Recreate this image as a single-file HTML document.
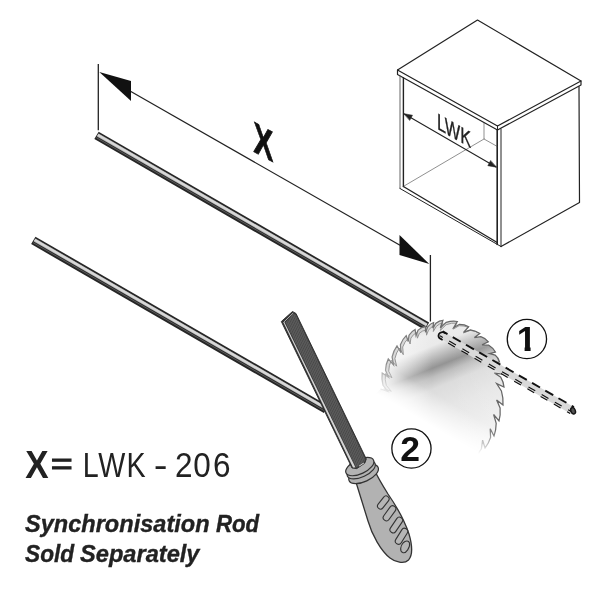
<!DOCTYPE html>
<html lang="en"><head><meta charset="utf-8"><title>Synchronisation Rod</title>
<style>html,body{margin:0;padding:0;background:#fff}svg{display:block;will-change:transform;filter:grayscale(1)}</style></head>
<body>
<svg width="600" height="600" viewBox="0 0 600 600">
<defs>
<linearGradient id="bladeg" gradientUnits="userSpaceOnUse" x1="418.8" y1="328.5" x2="471.2" y2="458.3">
  <stop offset="0" stop-color="#d8d8d8"/>
  <stop offset="0.06" stop-color="#ececec"/>
  <stop offset="0.15" stop-color="#eaeaea"/>
  <stop offset="0.23" stop-color="#bcbcbc"/>
  <stop offset="0.30" stop-color="#949494"/>
  <stop offset="0.36" stop-color="#bebebe"/>
  <stop offset="0.44" stop-color="#dcdcdc"/>
  <stop offset="0.6" stop-color="#e6e6e6"/>
  <stop offset="0.8" stop-color="#eeeeee"/>
  <stop offset="1" stop-color="#f8f8f8"/>
</linearGradient>
<linearGradient id="bladestroke" gradientUnits="userSpaceOnUse" x1="380" y1="390" x2="500" y2="330">
  <stop offset="0" stop-color="#9a9a9a"/>
  <stop offset="0.5" stop-color="#707070"/>
  <stop offset="1" stop-color="#606060"/>
</linearGradient>
<linearGradient id="lightenL" gradientUnits="userSpaceOnUse" x1="384" y1="0" x2="432" y2="0">
  <stop offset="0" stop-color="#fff" stop-opacity="0.7"/>
  <stop offset="1" stop-color="#fff" stop-opacity="0"/>
</linearGradient>
<linearGradient id="lighten" gradientUnits="userSpaceOnUse" x1="450" y1="0" x2="505" y2="0">
  <stop offset="0" stop-color="#fff" stop-opacity="0"/>
  <stop offset="1" stop-color="#fff" stop-opacity="0.12"/>
</linearGradient>
<linearGradient id="fadeg" gradientUnits="userSpaceOnUse" x1="442.0" y1="386.0" x2="421.7" y2="420.4">
  <stop offset="0" stop-color="#fff"/>
  <stop offset="0.25" stop-color="#fff"/>
  <stop offset="1" stop-color="#000"/>
</linearGradient>
<mask id="fadem" maskUnits="userSpaceOnUse" x="340" y="300" width="200" height="200"><rect x="340" y="300" width="200" height="200" fill="url(#fadeg)"/></mask>
<clipPath id="oneclip"><path d="M505 315 H550 V346.4 H530.6 V353 H524.6 V346.4 H505 Z"/></clipPath>
<pattern id="hatch" patternUnits="userSpaceOnUse" width="2.2" height="2.2" patternTransform="rotate(28)">
  <rect width="2.2" height="2.2" fill="#5a5a5a"/>
  <rect width="0.8" height="2.2" fill="#484848"/>
</pattern>
</defs>
<rect width="600" height="600" fill="#fff"/>

<g id="cabinet" fill="none" stroke="#222" stroke-linejoin="round" stroke-linecap="round">
  <path d="M397.5 70 L477.5 20 L581 81 L581 85 L497.5 130 L397.5 74.5 Z" fill="#fff" stroke-width="1.2"/>
  <path d="M397.5 70 L497.5 126 L581 81" stroke-width="1.2"/>
  <path d="M497.5 126 L497.5 130" stroke-width="1"/>
  <path d="M579 86.5 L579.5 202.5 L501 246.5" stroke-width="1.2"/>
  <path d="M497.2 130 L497.2 244.5" stroke-width="1.6"/>
  <path d="M501 129 L501 246.5" stroke-width="1"/>
  <path d="M400 76 L400 188.5" stroke-width="0.9" stroke="#555"/>
  <path d="M403.4 78 L403.4 186.5" stroke-width="1.4"/>
  <path d="M403.4 186.5 L497.2 242.5" stroke-width="1.4"/>
  <path d="M400 188.5 L501 246.5" stroke-width="1"/>
  <path d="M484 122.5 L484 139 L497 146.3" stroke-width="0.6" stroke="#444"/>
  <path d="M484 139 L403.6 186.3" stroke-width="0.6" stroke="#444"/>
  <path d="M404.5 114 L496 167" stroke-width="1.1"/>
  <path d="M404 113.7 L412.5 115.2 L409.8 120.2 Z" fill="#222" stroke-width="0.5"/>
  <path d="M496.3 167.2 L487.8 165.7 L490.5 160.7 Z" fill="#222" stroke-width="0.5"/>
</g>
<text transform="matrix(0.71 0.40 0 1 437 128.8)" font-family="'Liberation Sans', sans-serif" font-size="23" fill="#222" stroke="#222" stroke-width="0.35">LWK</text>


<g id="dimx" fill="none" stroke="#222" stroke-linecap="butt">
  <path d="M98.3 64 L98.3 130.3" stroke-width="1.3"/>
  <path d="M430.4 255 L430.4 321.5" stroke-width="1.3"/>
  <path d="M130 91 L400 245.3" stroke-width="1.2"/>
  <path d="M99.3 72 L131 81 L131 101 Z" fill="#111" stroke="none"/>
  <path d="M429.3 264 L399.5 235 L399.5 255 Z" fill="#111" stroke="none"/>
</g>
<text transform="matrix(0.68 0.37 0 1 253.4 151.5)" font-family="'Liberation Sans', sans-serif" font-weight="bold" font-size="43.5" fill="#111" stroke="#111" stroke-width="0.9" stroke-linejoin="miter">X</text>

<g><path d="M96.50 135.39 L427.00 326.22" stroke="#262626" stroke-width="8.60" fill="none"/><path d="M97.75 135.02 L426.69 324.95" stroke="#b4b4b4" stroke-width="3.27" fill="none"/><path d="M97.82 134.91 L426.76 324.84" stroke="#d8d8d8" stroke-width="2.15" fill="none"/><path d="M96.27 137.59 L425.21 327.52" stroke="#808080" stroke-width="0.60" fill="none"/></g>
<g><path d="M33.30 240.38 L326.00 409.38" stroke="#262626" stroke-width="8.60" fill="none"/><path d="M34.55 240.01 L325.69 408.11" stroke="#b4b4b4" stroke-width="3.27" fill="none"/><path d="M34.62 239.89 L325.76 408.00" stroke="#d8d8d8" stroke-width="2.15" fill="none"/><path d="M33.07 242.58 L324.21 410.68" stroke="#808080" stroke-width="0.60" fill="none"/></g>
<g id="blade" mask="url(#fadem)">
  <path d="M380.5 389.0 L387.9 391.5 L383.0 385.3 Q381.3 379.1 382.2 373.0 L388.6 377.2 L385.5 370.3 Q385.7 364.2 388.3 358.9 L393.5 364.8 L392.1 356.9 Q393.5 350.6 397.0 345.8 L401.0 352.7 L400.4 344.7 Q402.4 339.2 406.2 335.6 L408.2 341.5 L409.0 335.3 Q411.4 331.3 415.1 329.5 L416.0 335.5 L418.1 330.1 Q421.3 327.2 425.5 326.7 L425.5 332.2 L427.7 326.9 Q430.4 323.4 433.6 322.5 L432.8 328.2 L435.9 323.2 Q439.4 320.5 443.0 320.3 L440.3 327.7 L446.2 322.4 Q451.9 320.7 457.3 321.5 L453.7 327.5 L459.5 324.3 Q464.5 324.3 468.7 326.7 L463.7 332.2 L470.5 329.8 Q475.8 330.6 479.8 333.6 L474.4 337.6 L480.8 336.7 Q485.5 338.3 488.4 341.8 L482.1 344.8 L488.8 345.2 Q493.1 347.8 495.4 352.0 L489.5 353.6 L495.1 355.1 Q498.5 357.9 499.5 362.0 L492.6 362.6 L498.6 365.3 Q501.5 369.3 502.0 374.0 L494.4 373.1 L500.8 377.3 Q503.7 382.0 504.0 387.0 L496.6 383.6 L501.4 390.9 Q503.5 398.2 503.0 405.0 L496.6 399.9 L500.1 407.9 Q500.7 415.0 499.0 421.0 L493.6 414.5 L496.2 423.3 Q496.1 430.5 494.0 436.0 L490.2 428.8 L490.6 437.4 Q488.6 443.7 485.0 448.0 L482.6 440.2 L481.4 448.7 Q478.3 454.5 474.0 458.0 L440 470 L390 440 L370 400 Z" fill="#d9d9d9" stroke="none"/>
  <path d="M383.9 388.8 L391.3 391.3 L386.3 385.4 Q384.6 379.4 385.5 373.7 L392.0 377.8 L388.7 371.2 Q388.8 365.4 391.3 360.4 L396.6 366.2 L394.9 358.6 Q396.1 352.6 399.5 348.1 L403.3 354.7 L402.7 347.0 Q404.6 341.7 408.2 338.4 L410.1 344.0 L410.9 338.1 Q413.1 334.2 416.6 332.6 L417.4 338.2 L419.4 333.2 Q422.4 330.4 426.4 330.0 L426.5 335.2 L428.5 330.1 Q431.0 326.7 434.0 325.9 L433.3 331.5 L436.3 326.4 Q439.5 323.3 443.0 322.8 L440.3 330.4 L446.1 324.7 Q451.7 322.6 456.9 323.2 L453.3 329.1 L459.1 325.7 Q464.2 325.4 468.4 327.5 L463.3 333.0 L470.3 330.4 Q475.7 330.9 479.8 333.6 L474.4 337.6 L480.8 336.7 Q485.5 338.3 488.4 341.8 L482.1 344.8 L488.8 345.2 Q493.1 347.8 495.4 352.0 L489.5 353.6 L495.1 355.1 Q498.5 357.9 499.5 362.0 L492.6 362.6 L498.6 365.3 Q501.5 369.3 502.0 374.0 L494.4 373.1 L500.8 377.3 Q503.7 382.0 504.0 387.0 L496.6 383.6 L501.4 390.9 Q503.5 398.2 503.0 405.0 L496.6 399.9 L500.1 407.9 Q500.7 415.0 499.0 421.0 L493.6 414.5 L496.2 423.3 Q496.1 430.5 494.0 436.0 L490.2 428.8 L490.6 437.4 Q488.6 443.7 485.0 448.0 L482.6 440.2 L481.4 448.7 Q478.3 454.5 474.0 458.0 L440 470 L390 440 L370 400 Z" fill="url(#bladeg)" stroke="none"/>
  <path d="M383.9 388.8 L391.3 391.3 L386.3 385.4 Q384.6 379.4 385.5 373.7 L392.0 377.8 L388.7 371.2 Q388.8 365.4 391.3 360.4 L396.6 366.2 L394.9 358.6 Q396.1 352.6 399.5 348.1 L403.3 354.7 L402.7 347.0 Q404.6 341.7 408.2 338.4 L410.1 344.0 L410.9 338.1 Q413.1 334.2 416.6 332.6 L417.4 338.2 L419.4 333.2 Q422.4 330.4 426.4 330.0 L426.5 335.2 L428.5 330.1 Q431.0 326.7 434.0 325.9 L433.3 331.5 L436.3 326.4 Q439.5 323.3 443.0 322.8 L440.3 330.4 L446.1 324.7 Q451.7 322.6 456.9 323.2 L453.3 329.1 L459.1 325.7 Q464.2 325.4 468.4 327.5 L463.3 333.0 L470.3 330.4 Q475.7 330.9 479.8 333.6 L474.4 337.6 L480.8 336.7 Q485.5 338.3 488.4 341.8 L482.1 344.8 L488.8 345.2 Q493.1 347.8 495.4 352.0 L489.5 353.6 L495.1 355.1 Q498.5 357.9 499.5 362.0 L492.6 362.6 L498.6 365.3 Q501.5 369.3 502.0 374.0 L494.4 373.1 L500.8 377.3 Q503.7 382.0 504.0 387.0 L496.6 383.6 L501.4 390.9 Q503.5 398.2 503.0 405.0 L496.6 399.9 L500.1 407.9 Q500.7 415.0 499.0 421.0 L493.6 414.5 L496.2 423.3 Q496.1 430.5 494.0 436.0 L490.2 428.8 L490.6 437.4 Q488.6 443.7 485.0 448.0 L482.6 440.2 L481.4 448.7 Q478.3 454.5 474.0 458.0 L440 470 L390 440 L370 400 Z" fill="url(#lighten)" stroke="none"/>
  <path d="M383.9 388.8 L391.3 391.3 L386.3 385.4 Q384.6 379.4 385.5 373.7 L392.0 377.8 L388.7 371.2 Q388.8 365.4 391.3 360.4 L396.6 366.2 L394.9 358.6 Q396.1 352.6 399.5 348.1 L403.3 354.7 L402.7 347.0 Q404.6 341.7 408.2 338.4 L410.1 344.0 L410.9 338.1 Q413.1 334.2 416.6 332.6 L417.4 338.2 L419.4 333.2 Q422.4 330.4 426.4 330.0 L426.5 335.2 L428.5 330.1 Q431.0 326.7 434.0 325.9 L433.3 331.5 L436.3 326.4 Q439.5 323.3 443.0 322.8 L440.3 330.4 L446.1 324.7 Q451.7 322.6 456.9 323.2 L453.3 329.1 L459.1 325.7 Q464.2 325.4 468.4 327.5 L463.3 333.0 L470.3 330.4 Q475.7 330.9 479.8 333.6 L474.4 337.6 L480.8 336.7 Q485.5 338.3 488.4 341.8 L482.1 344.8 L488.8 345.2 Q493.1 347.8 495.4 352.0 L489.5 353.6 L495.1 355.1 Q498.5 357.9 499.5 362.0 L492.6 362.6 L498.6 365.3 Q501.5 369.3 502.0 374.0 L494.4 373.1 L500.8 377.3 Q503.7 382.0 504.0 387.0 L496.6 383.6 L501.4 390.9 Q503.5 398.2 503.0 405.0 L496.6 399.9 L500.1 407.9 Q500.7 415.0 499.0 421.0 L493.6 414.5 L496.2 423.3 Q496.1 430.5 494.0 436.0 L490.2 428.8 L490.6 437.4 Q488.6 443.7 485.0 448.0 L482.6 440.2 L481.4 448.7 Q478.3 454.5 474.0 458.0 L440 470 L390 440 L370 400 Z" fill="url(#lightenL)" stroke="none"/>
  <path d="M383.9 388.8 L391.3 391.3 L386.3 385.4 Q384.6 379.4 385.5 373.7 L392.0 377.8 L388.7 371.2 Q388.8 365.4 391.3 360.4 L396.6 366.2 L394.9 358.6 Q396.1 352.6 399.5 348.1 L403.3 354.7 L402.7 347.0 Q404.6 341.7 408.2 338.4 L410.1 344.0 L410.9 338.1 Q413.1 334.2 416.6 332.6 L417.4 338.2 L419.4 333.2 Q422.4 330.4 426.4 330.0 L426.5 335.2 L428.5 330.1 Q431.0 326.7 434.0 325.9 L433.3 331.5 L436.3 326.4 Q439.5 323.3 443.0 322.8 L440.3 330.4 L446.1 324.7 Q451.7 322.6 456.9 323.2 L453.3 329.1 L459.1 325.7 Q464.2 325.4 468.4 327.5 L463.3 333.0 L470.3 330.4 Q475.7 330.9 479.8 333.6" fill="none" stroke="#8c8c8c" stroke-width="0.9" stroke-linejoin="miter"/>
  <path d="M380.5 389.0 L387.9 391.5 L383.0 385.3 Q381.3 379.1 382.2 373.0 L388.6 377.2 L385.5 370.3 Q385.7 364.2 388.3 358.9 L393.5 364.8 L392.1 356.9 Q393.5 350.6 397.0 345.8 L401.0 352.7 L400.4 344.7 Q402.4 339.2 406.2 335.6 L408.2 341.5 L409.0 335.3 Q411.4 331.3 415.1 329.5 L416.0 335.5 L418.1 330.1 Q421.3 327.2 425.5 326.7 L425.5 332.2 L427.7 326.9 Q430.4 323.4 433.6 322.5 L432.8 328.2 L435.9 323.2 Q439.4 320.5 443.0 320.3 L440.3 327.7 L446.2 322.4 Q451.9 320.7 457.3 321.5 L453.7 327.5 L459.5 324.3 Q464.5 324.3 468.7 326.7 L463.7 332.2 L470.5 329.8 Q475.8 330.6 479.8 333.6 L474.4 337.6 L480.8 336.7 Q485.5 338.3 488.4 341.8 L482.1 344.8 L488.8 345.2 Q493.1 347.8 495.4 352.0 L489.5 353.6 L495.1 355.1 Q498.5 357.9 499.5 362.0 L492.6 362.6 L498.6 365.3 Q501.5 369.3 502.0 374.0 L494.4 373.1 L500.8 377.3 Q503.7 382.0 504.0 387.0 L496.6 383.6 L501.4 390.9 Q503.5 398.2 503.0 405.0 L496.6 399.9 L500.1 407.9 Q500.7 415.0 499.0 421.0 L493.6 414.5 L496.2 423.3 Q496.1 430.5 494.0 436.0 L490.2 428.8 L490.6 437.4 Q488.6 443.7 485.0 448.0 L482.6 440.2 L481.4 448.7 Q478.3 454.5 474.0 458.0" fill="none" stroke="url(#bladestroke)" stroke-width="1.25" stroke-linejoin="miter"/>
</g>
<g id="cutrod" fill="none">
  <path d="M439.55 333.81 L572.05 410.31" stroke="#d9d9d9" stroke-width="7.4"/>
  <path d="M442.70 331.36 L573.90 407.11" stroke="#111" stroke-width="1.9" stroke-dasharray="9.2 6.06" stroke-dashoffset="3.66"/>
  <path d="M440.10 335.86 L571.30 411.61" stroke="#111" stroke-width="1.15" stroke-dasharray="7.8 7.46" stroke-dashoffset="4.76"/>
  <path d="M439.00 337.76 L570.20 413.51" stroke="#111" stroke-width="1.15" stroke-dasharray="7.8 7.46" stroke-dashoffset="4.76"/>
  <path d="M445.5 333.2 L443.2 332.2 Q440 331.8 438.8 334.2 Q437.8 337 440 338.6 L442.6 340" stroke="#111" stroke-width="1.7" stroke-linejoin="round"/>
  <ellipse cx="573.1" cy="410.8" rx="2.2" ry="3.3" transform="rotate(-22 573.1 410.8)" fill="#555" stroke="#151515" stroke-width="1.4"/>
</g>
<g id="circles" font-family="'Liberation Sans', sans-serif" font-weight="bold" font-size="35.5" fill="#111">
  <circle cx="526.9" cy="339" r="19.65" fill="#fff" stroke="#111" stroke-width="1.3"/>
  <text x="516.65" y="351.15" clip-path="url(#oneclip)">1</text>
  <circle cx="411.45" cy="448.55" r="19.6" fill="#fff" stroke="#111" stroke-width="1.3"/>
  <text x="400.3" y="460.7">2</text>
</g>
<g id="handle" stroke="#333" stroke-linejoin="round" stroke-linecap="round">
  <path d="M355 479 C359 492 364 508 368 521 C372 535 381 551 390 558 C395 562 404 564.5 408.5 560 C413 555 412.5 546 409 534 C405 522 397 507 388 494 C383 486 378 478 375 471 Z" fill="#b2b2b2" stroke-width="1.3"/>
  <g fill="#b6b6b6" stroke-width="1.1">
    <rect x="-3" y="-7.5" width="6" height="15" rx="3" transform="translate(383.3 502.5) rotate(38)"/>
    <rect x="-3.2" y="-8.5" width="6.4" height="17" rx="3.2" transform="translate(389.5 513.3) rotate(36)"/>
    <rect x="-3.2" y="-8.8" width="6.4" height="17.6" rx="3.2" transform="translate(396.3 525) rotate(34)"/>
    <rect x="-3.2" y="-8.8" width="6.4" height="17.6" rx="3.2" transform="translate(401.5 536.3) rotate(32)"/>
    <path d="M402.6 552.6 C399.5 551 400.5 546 403 543 C405.5 540.5 408.6 540 409.5 543 C410.5 547 406 554 402.6 552.6 Z"/>
  </g>
  <!-- collar: two stacked discs -->
  <g fill="#b2b2b2" stroke-width="1.2">
    <ellipse cx="363.6" cy="474.0" rx="16" ry="7.6" transform="rotate(-25 363.6 474.0)"/>
    <ellipse cx="361.2" cy="469.8" rx="15.2" ry="7.2" transform="rotate(-25 361.2 469.8)"/>
    <ellipse cx="359.8" cy="466.6" rx="15.2" ry="7.2" transform="rotate(-25 359.8 466.6)" fill="#b2b2b2"/>
  </g>
</g>
<g id="file" stroke-linejoin="round">
  <path d="M281.3 321.5 L292.5 311.5 L296 313.5 L366.3 459 L364.8 463 L356.8 468.6 L352.0 468 Z" fill="#333" stroke="#2a2a2a" stroke-width="0.9"/>
  <path d="M285.4 322.5 L293.6 313.4 L295.6 314.6 L365.4 459 L364 462.6 L357.6 467.2 L356.0 467.2 Z" fill="url(#hatch)" stroke="none"/>
  <path d="M283.2 322 L284.3 322 L355.5 467.5 L353.0 467.5 Z" fill="#d4d4d4" stroke="none"/>
  <path d="M283.9 322 L293.2 313" stroke="#bdbdbd" stroke-width="0.9" fill="none"/>
  <path d="M358.6 465.6 L363.6 462.2 L364.4 463.4 L359.4 466.8 Z" fill="#ddd" stroke="#333" stroke-width="0.6"/>
</g>
<g id="labels" font-family="'Liberation Sans', sans-serif" fill="#222">
    <text x="25.25" y="478" font-size="38.5" font-weight="bold" textLength="23.37" lengthAdjust="spacingAndGlyphs">X</text>
  <text x="50.71" y="473.9" font-size="30" textLength="22.04" lengthAdjust="spacingAndGlyphs" stroke="#222" stroke-width="1.0">=</text>
  <text transform="translate(0 476.9) scale(0.8363 1)" x="98.87 117.35 151.23" y="0" font-size="34.3">LWK</text>
  <text x="153.84" y="476.9" font-size="34.3" textLength="13.77" lengthAdjust="spacingAndGlyphs">-</text>
  <text transform="translate(0 476.9) scale(0.9193 1)" x="190.36 210.30 231.68" y="0" font-size="34.3">206</text>
  <g font-size="23.4" font-weight="bold" font-style="italic" stroke="#222" stroke-width="0.35">
  <text y="531.5"><tspan x="25" textLength="184.6" lengthAdjust="spacingAndGlyphs">Synchronisation</tspan> <tspan x="216" textLength="43.2" lengthAdjust="spacingAndGlyphs">Rod</tspan></text>
  <text y="562"><tspan x="25" textLength="49.2" lengthAdjust="spacingAndGlyphs">Sold</tspan> <tspan x="80" textLength="119.5" lengthAdjust="spacingAndGlyphs">Separately</tspan></text>
  </g>
</g>
</svg>
</body></html>
